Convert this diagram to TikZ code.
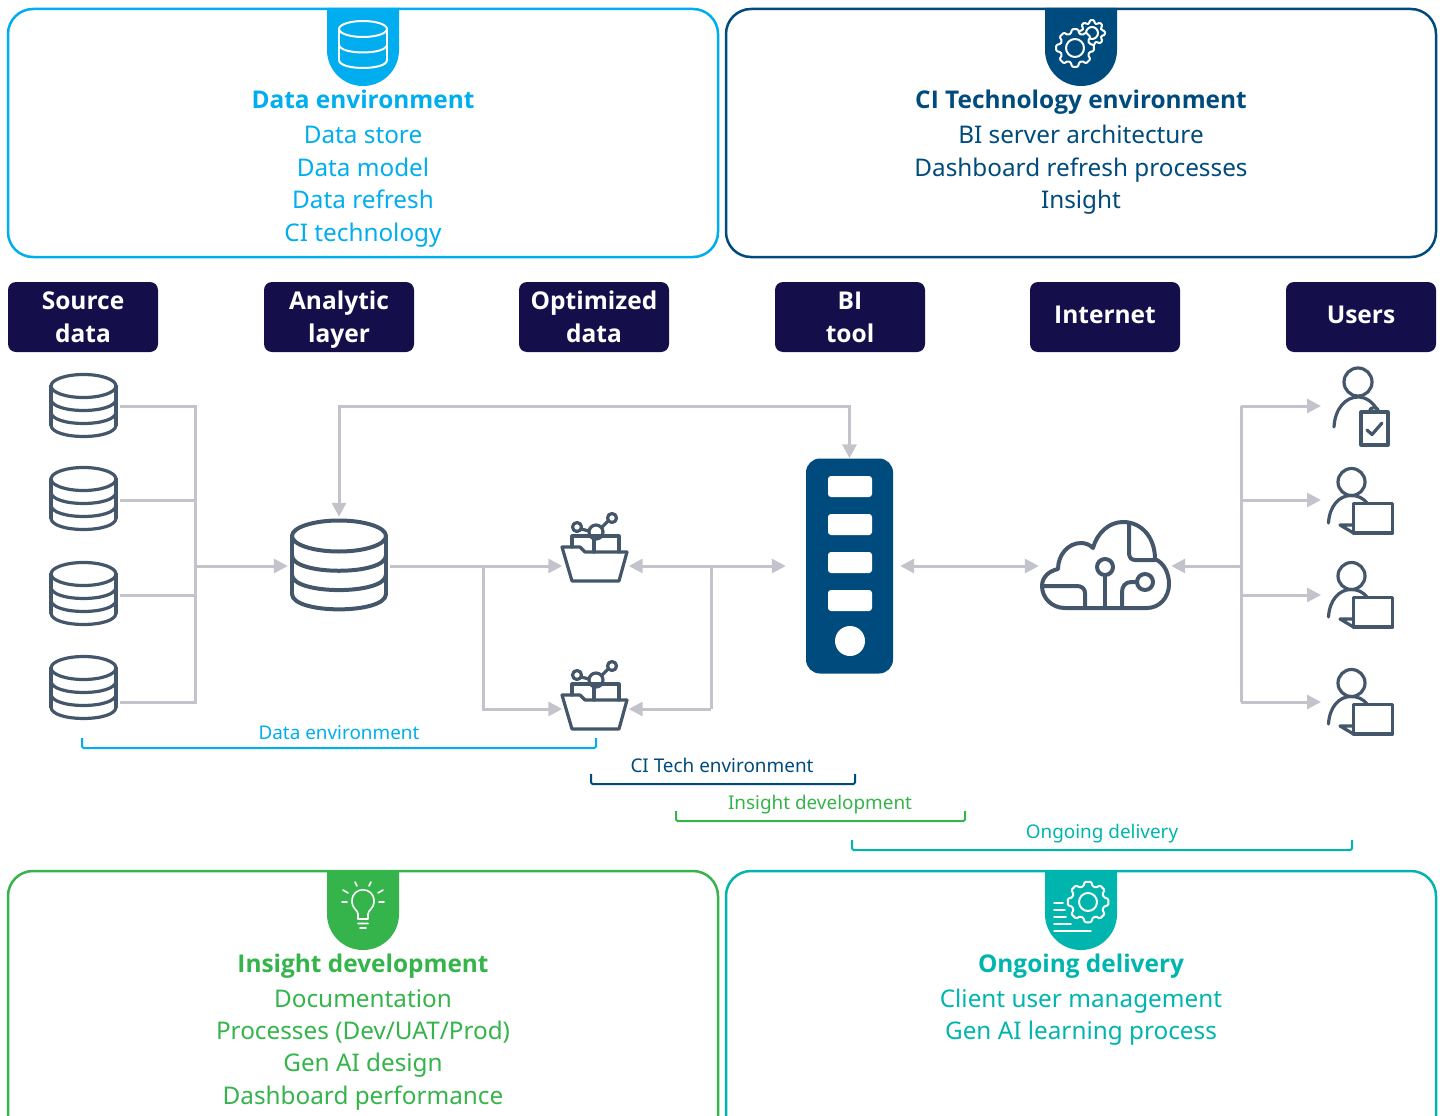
\documentclass[tikz,border=0pt]{standalone}
\usepackage{fontspec}
\setmainfont{Noto Sans}
\newfontfamily\nbold{Open Sans}
\usetikzlibrary{arrows.meta,calc}
\definecolor{cblue}{HTML}{00AEEF}
\definecolor{cnavy}{HTML}{004B7D}
\definecolor{cgreen}{HTML}{34B44A}
\definecolor{cteal}{HTML}{00B5AD}
\definecolor{chead}{HTML}{140F4B}
\definecolor{cicon}{HTML}{44566A}
\definecolor{cline}{HTML}{C3C3CB}
\newcommand{\bt}[1]{{\fontsize{24.4}{32.7}\selectfont\nbold\bfseries #1}}
\newcommand{\hl}[1]{\strut{\fontsize{24.5}{33}\selectfont\nbold\bfseries #1}}
\newcommand{\hlf}[1]{\rule{0pt}{27.1pt}\hl{#1}}
\tikzset{
  panel/.style={line width=2.5pt,rounded corners=25pt,fill=white},
  tab/.style={rounded corners=35.9pt,fill=#1,draw=none},
  paneltext/.style={text=#1,align=center,anchor=north,inner sep=0pt,font=\fontsize{24.3}{32.7}\selectfont},
  headbox/.style={fill=chead,rounded corners=8pt,minimum width=150pt,minimum height=70pt,inner sep=0pt,text=white,align=center,font=\fontsize{24}{33}\selectfont},
  conn/.style={draw=cline,line width=3pt},
  arr/.style={conn,-{Triangle[length=14pt,width=14pt]}},
  bi/.style={conn,{Triangle[length=14pt,width=14pt]}-{Triangle[length=14pt,width=14pt]}},
  iconbox/.style={inner sep=0pt,minimum width=#1},
  icon/.style={draw=cicon,line width=3.2pt,line cap=round,line join=round},
  wicon/.style={draw=white,line width=2pt,line cap=round,line join=round},
  brlabel/.style={text=#1,inner sep=0pt,font=\fontsize{18.9}{20}\selectfont},
  bracket/.style={draw=#1,line width=2pt,rounded corners=1.5pt},
}
% cylinder: cx, top centre y, rx, ry, band step, number of bands after the top ellipse, style
\newcommand{\dbicon}[7]{%
  \draw[#7] (#1,#2) ellipse [x radius=#3pt,y radius=#4pt];
  \pgfmathsetmacro{\dbbot}{#2+#5*#6}
  \draw[#7] (#1-#3,#2) -- (#1-#3,\dbbot) (#1+#3,#2) -- (#1+#3,\dbbot);
  \foreach \k in {1,...,#6}{
    \pgfmathsetmacro{\dby}{#2+#5*\k}
    \pgfmathsetmacro{\dbc}{\dby+1.33*#4}
    \draw[#7] (#1-#3,\dby) .. controls (#1-#3,\dbc) and (#1+#3,\dbc) .. (#1+#3,\dby);
  }%
}
% gear: cx, cy, outer r, root r, teeth, style
\newcommand{\gearicon}[6]{%
  \pgfmathsetmacro{\ga}{360/#5}
  \draw[#6,rounded corners=1pt] ({#1+#4*cos(-0.36*\ga)},{#2+#4*sin(-0.36*\ga)})
    \foreach \k in {1,...,#5}{
      -- ({#1+#3*cos((\k-1)*\ga-0.2*\ga)},{#2+#3*sin((\k-1)*\ga-0.2*\ga)})
      -- ({#1+#3*cos((\k-1)*\ga+0.2*\ga)},{#2+#3*sin((\k-1)*\ga+0.2*\ga)})
      -- ({#1+#4*cos((\k-1)*\ga+0.36*\ga)},{#2+#4*sin((\k-1)*\ga+0.36*\ga)})
      -- ({#1+#4*cos(\k*\ga-0.36*\ga)},{#2+#4*sin(\k*\ga-0.36*\ga)})
    } -- cycle;
}
% folder, y offset
\newcommand{\foldericon}[1]{%
  \begin{scope}[shift={(0,#1)}]
    \draw[icon] (572,547) -- (572,536) -- (619,536) -- (619,552);
    \draw[icon] (562,547) -- (580,547) -- (585,552) -- (627,552) -- (619,581) -- (572,581) -- cycle;
    \draw[icon] (594,539) -- (594,552);
    \draw[icon] (596,532) circle [radius=7pt];
    \draw[icon] (577,527) circle [radius=4.5pt];
    \draw[icon] (612,518) circle [radius=4.5pt];
    \draw[icon] (581,529) -- (589,531) (602,527) -- (608,521);
  \end{scope}%
}
% laptop user, y offset
\newcommand{\laptopuser}[1]{%
  \begin{scope}[shift={(0,#1)}]
    \draw[icon] (1351.5,482) circle [radius=13.5pt];
    \draw[icon] (1328.5,523) .. controls (1329.5,506) and (1339,495.5) .. (1351,495.5) .. controls (1358,495.5) and (1363,498) .. (1367,503);
    \draw[icon] (1353.5,503.5) rectangle (1392.5,533);
    \draw[icon] (1353.5,525) -- (1340,525) -- (1353.5,533);
  \end{scope}%
}
\begin{document}
\begin{tikzpicture}[x=1pt,y=-1pt]
\useasboundingbox (0,0) rectangle (1440,1116);
% top panels
\draw[panel,draw=cblue] (8,9) rectangle (718,257);
\draw[panel,draw=cnavy] (726,9) rectangle (1436,257);
% bottom panels run off the page
\begin{scope}
  \clip (0,0) rectangle (1440,1116);
  \draw[panel,draw=cgreen] (8,871) rectangle (718,1160);
  \draw[panel,draw=cteal] (726,871) rectangle (1436,1160);
\end{scope}
% tabs
\fill[tab=cblue] (327,8) -- (327,86) -- (399,86) -- (399,8);
\fill[tab=cnavy] (1045,8) -- (1045,86) -- (1117,86) -- (1117,8);
\fill[tab=cgreen] (327,870) -- (327,950) -- (399,950) -- (399,870);
\fill[tab=cteal] (1045,870) -- (1045,950) -- (1117,950) -- (1117,870);
% tab icons
\dbicon{363}{29}{24}{8}{15.5}{2}{wicon}
\gearicon{1092}{33}{13}{10}{8}{wicon}
\draw[wicon] (1092,33) circle [radius=6pt];
\gearicon{1075}{48}{19}{15}{8}{wicon,fill=cnavy}
\draw[wicon] (1075,48) circle [radius=9pt];
\draw[wicon,line width=1.6pt] (358,919) -- (358,914) .. controls (358,910) and (352,909) .. (352,901)
  .. controls (352,886) and (374,886) .. (374,901) .. controls (374,909) and (368,910) .. (368,914) -- (368,919) -- cycle;
\draw[wicon,line width=1.6pt] (358,923.5) -- (368,923.5) (360,928) -- (366,928)
  (355,882) -- (357,886) (371,882) -- (369,886) (343,890) -- (348,893) (383,890) -- (378,893)
  (342,902) -- (347,902) (379,902) -- (384,902);
\gearicon{1088}{902}{20.5}{16.5}{8}{wicon}
\draw[wicon] (1088,902) circle [radius=9pt];
\draw[wicon,line width=1.6pt] (1054,903) -- (1063,903) (1054,910) -- (1065,910) (1054,917) -- (1066,917)
  (1054,924) -- (1071,924) (1054,931) -- (1091,931);
% panel text
\node[paneltext=cblue] (envtext) at (363,90) {\bt{Data environment}\\[2pt]Data store\\Data model\\Data refresh\\CI technology};
\node[paneltext=cnavy] (citext) at (1081,90) {\bt{CI Technology environment}\\[2pt]BI server architecture\\Dashboard refresh processes\\Insight};
\node[paneltext=cgreen] (instext) at (363,954) {\bt{Insight development}\\[2pt]Documentation\\[-1pt]Processes (Dev/UAT/Prod)\\Gen AI design\\Dashboard performance};
\node[paneltext=cteal] (ongtext) at (1081,954) {\bt{Ongoing delivery}\\[2pt]Client user management\\[-1pt]Gen AI learning process};
% header boxes
\node[headbox] (hsrc) at (83,317) {\hlf{Source}\\\hl{data}};
\node[headbox] (hana) at (339,317) {\hlf{Analytic}\\\hl{layer}};
\node[headbox] (hopt) at (594,317) {\hlf{Optimized}\\\hl{data}};
\node[headbox] (hbi)  at (850,317) {\hlf{BI}\\\hl{tool}};
\node[headbox] (hnet) at (1105,317) {\hl{Internet}};
\node[headbox] (husr) at (1361,317) {\hl{Users}};
% icon anchor nodes
\node[iconbox=73pt] (src1) at (83.5,406) {};
\node[iconbox=73pt] (src2) at (83.5,500) {};
\node[iconbox=73pt] (src3) at (83.5,595) {};
\node[iconbox=73pt] (src4) at (83.5,702) {};
\node[iconbox=102pt,minimum height=98pt] (bigdb) at (339,566) {};
\node[iconbox=66pt] (fold1) at (595.5,566) {};
\node[iconbox=66pt] (fold2) at (595.5,709) {};
\node[iconbox=132pt] (cloud) at (1105,566) {};
\node[anchor=west,inner sep=0pt] (usr1) at (1321,406) {};
\node[anchor=west,inner sep=0pt] (usr2) at (1321,500) {};
\node[anchor=west,inner sep=0pt] (usr3) at (1321,595) {};
\node[anchor=west,inner sep=0pt] (usr4) at (1321,702) {};
% server
\node[fill=cnavy,rounded corners=14pt,minimum width=87pt,minimum height=215pt,inner sep=0pt] (server) at (849.5,566) {};
\foreach \yy in {476,514,552,590}
  \fill[white,rounded corners=3pt] (828,\yy) rectangle (872,\yy+21);
\fill[white] (850,641) circle [radius=15pt];
% junctions
\coordinate (j1) at (195,406);
\coordinate (j4) at (195,702);
\coordinate (j2) at (195,500);
\coordinate (j3) at (195,595);
\coordinate (jm) at (195,566);
\coordinate (ja) at (339,406);
\coordinate (jb) at (849.5,406);
\coordinate (jc) at (483,566);
\coordinate (jd) at (483,709);
\coordinate (je) at (711,566);
\coordinate (jf) at (711,709);
\coordinate (u1) at (1241,406);
\coordinate (u2) at (1241,500);
\coordinate (u3) at (1241,595);
\coordinate (u4) at (1241,702);
\coordinate (uc) at (1241,566);
% connectors
\draw[conn,line join=miter] (src1.east) -- (j1) -- (j4) -- (src4.east);
\draw[conn] (src2.east) -- (j2);
\draw[conn] (src3.east) -- (j3);
\draw[arr] (jm) -- (bigdb.west);
\draw[bi] (bigdb.north) -- (ja) -- (jb) -- (server.north);
\draw[arr] (bigdb.east) -- (fold1.west);
\draw[arr] (jc) -- (jd) -- (fold2.west);
\draw[bi,shorten >=20pt] (fold1.east) -- (server.west);
\draw[arr] (jf) -- (fold2.east);
\draw[conn] (je) -- (jf);
\draw[bi,shorten <=7pt] (server.east) -- (cloud.west);
\draw[arr] (uc) -- (cloud.east);
\draw[conn] (u1) -- (u4);
\draw[arr] (u1) -- (usr1.west);
\draw[arr] (u2) -- (usr2.west);
\draw[arr] (u3) -- (usr3.west);
\draw[arr] (u4) -- (usr4.west);
% database icons
\dbicon{83.5}{386}{32.5}{11.5}{13}{3}{icon}
\dbicon{83.5}{479}{32.5}{11.5}{13}{3}{icon}
\dbicon{83.5}{574}{32.5}{11.5}{13}{3}{icon}
\dbicon{83.5}{668}{32.5}{11.5}{13}{3}{icon}
\dbicon{339}{536}{47}{15.5}{19.3}{3}{icon,line width=4pt}
% folders
\foldericon{0}
\foldericon{148}
% cloud
\draw[icon,line width=4pt] (1065,608) .. controls (1052,608) and (1042,598) .. (1042,586)
  .. controls (1042,577) and (1049,571) .. (1058,569)
  .. controls (1058,555) and (1068,543) .. (1081,543)
  .. controls (1086,543) and (1090,545) .. (1093,548)
  .. controls (1097,533) and (1109,522) .. (1123,522)
  .. controls (1142,522) and (1155,538) .. (1155,559)
  .. controls (1164,563) and (1169,573) .. (1169,584)
  .. controls (1169,598) and (1159,608) .. (1147,608) -- cycle;
\draw[icon,line width=4pt] (1129,523) -- (1129,553) .. controls (1129,557) and (1131,560) .. (1135,560) -- (1155,560);
\draw[icon,line width=4pt] (1042,586) -- (1077,586) .. controls (1082,586) and (1085,589) .. (1085,593) -- (1085,608);
\draw[icon,line width=4pt] (1105,567) circle [radius=8pt];
\draw[icon,line width=4pt] (1105,575) -- (1105,608);
\draw[icon,line width=4pt] (1145,582) circle [radius=8pt];
\draw[icon,line width=4pt] (1137,582) -- (1131,582) .. controls (1125,582) and (1122,587) .. (1122,592) -- (1122,608);
% users
\draw[icon] (1358,382) circle [radius=14pt];
\draw[icon] (1334,427) .. controls (1335,408) and (1346,397) .. (1358,397) .. controls (1366,397) and (1373,402) .. (1378,411);
\draw[icon] (1361,412) rectangle (1388,445);
\draw[icon] (1369,412) .. controls (1370,406) and (1378,406) .. (1379,412);
\draw[icon] (1367,430) -- (1372,434.5) -- (1382,423);
\laptopuser{0}
\laptopuser{94}
\laptopuser{201}
% brackets
\draw[bracket=cblue] (82,738) -- (82,748) -- (596,748) -- (596,738);
\node[brlabel=cblue] (bl1) at (339,733) {Data environment};
\draw[bracket=cnavy] (591,774) -- (591,784) -- (855,784) -- (855,774);
\node[brlabel=cnavy] (bl2) at (722,765) {CI Tech environment};
\draw[bracket=cgreen] (676,811) -- (676,821) -- (965,821) -- (965,811);
\node[brlabel=cgreen] (bl3) at (820,805) {Insight development};
\draw[bracket=cteal] (852,840) -- (852,850) -- (1352,850) -- (1352,840);
\node[brlabel=cteal] (bl4) at (1102,834) {Ongoing delivery};
\end{tikzpicture}
\end{document}
